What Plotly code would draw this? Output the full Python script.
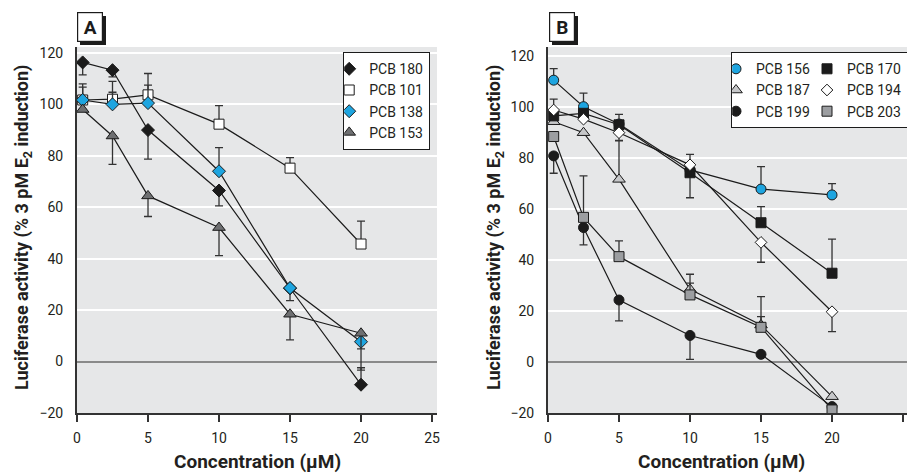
import plotly.graph_objects as go

W, H = 907, 473

# ---------------- data ----------------
conc = [0.4, 2.5, 5, 10, 15, 20]

# Panel A
pcb180 = [116.3, 113.3, 90.0, 66.5, 28.5, -9.0]
pcb180_up = [0, 0, 0, 0, 0, 6.6]
pcb180_dn = [4.8, 2.6, 11.3, 6.0, 4.8, 0]

pcb101 = [101.7, 102.0, 103.7, 92.3, 75.2, 45.7]
pcb101_up = [6.3, 6.9, 8.3, 7.2, 4.1, 8.9]
pcb101_dn = [0, 0, 0, 0, 0, 0]

pcb138 = [101.7, 100.0, 100.5, 74.0, 28.6, 7.7]
pcb138_up = [5.0, 4.7, 7.0, 9.2, 0, 0]
pcb138_dn = [0, 0, 0, 0, 0, 11.0]

pcb153 = [98.0, 87.7, 64.4, 52.1, 18.4, 11.0]
pcb153_up = [0, 0, 0, 0, 0, 0]
pcb153_dn = [0, 11.0, 8.0, 10.9, 10.0, 6.1]

# Panel B
pcb156 = [110.5, 100.1, 93.3, 75.3, 67.8, 65.5]
pcb156_up = [4.5, 5.3, 3.8, 6.1, 8.8, 4.4]
pcb156_dn = [0, 0, 0, 0, 0, 0]

pcb170 = [96.5, 97.5, 93.0, 74.2, 54.6, 34.8]
pcb170_up = [0, 0, 0, 0, 6.3, 13.4]
pcb170_dn = [0, 0, 0, 9.8, 0, 0]

pcb187 = [94.2, 89.9, 71.6, 28.5, 14.5, -13.6]
pcb187_up = [0, 0, 15.1, 5.9, 11.1, 0]
pcb187_dn = [0, 0, 0, 0, 0, 0]

pcb194 = [98.8, 95.2, 89.9, 77.3, 46.9, 19.7]
pcb194_up = [4.3, 0, 0, 0, 0, 0]
pcb194_dn = [0, 0, 3.0, 0, 7.8, 7.8]

pcb199 = [80.8, 52.7, 24.3, 10.4, 3.0, -17.5]
pcb199_up = [0, 0, 0, 0, 0, 0]
pcb199_dn = [6.8, 6.8, 8.2, 9.4, 0, 0]

pcb203 = [88.4, 56.7, 41.3, 26.3, 13.6, -18.8]
pcb203_up = [0, 16.3, 6.2, 4.6, 4.2, 0]
pcb203_dn = [0, 0, 0, 0, 0, 0]

x_ticks = [0, 5, 10, 15, 20, 25]
y_ticks = [-20, 0, 20, 40, 60, 80, 100, 120]

# ---------------- style ----------------
FONT = "Roboto, Liberation Sans, Arial, sans-serif"
BLUE = "#1ea5e0"
DARKGRAY = "#6e6f71"
LIGHTGRAY = "#c6c7c9"
MIDGRAY = "#9c9ea1"
BLACK = "#1b1b1b"
BG = "#e6e7e8"
TXT = "#231f20"


def px(x):
    return x / W


def py(y):
    return (H - y) / H


line_traces = []
marker_traces = []


def add(name, y, up, dn, symbol, size, color, xa, ya, legend, group=None):
    # connecting line (not shown in legend)
    line_traces.append(go.Scatter(
        x=conc, y=y, mode="lines", showlegend=False, hoverinfo="skip",
        xaxis=xa, yaxis=ya, line=dict(color=BLACK, width=1.2),
    ))
    # markers with error bars (legend entry shows the marker only)
    marker_traces.append(go.Scatter(
        x=conc, y=y, name=name, mode="markers",
        xaxis=xa, yaxis=ya, legend=legend, legendgroup=group,
        marker=dict(symbol=symbol, size=size, color=color,
                    line=dict(color=BLACK, width=1)),
        error_y=dict(type="data", symmetric=False, array=up, arrayminus=dn,
                     color="#333333", thickness=1.3, width=4),
    ))


# Panel A
add("PCB 180", pcb180, pcb180_up, pcb180_dn, "diamond", 10, BLACK, "x", "y", "legend")
add("PCB 101", pcb101, pcb101_up, pcb101_dn, "square", 10, "white", "x", "y", "legend")
add("PCB 138", pcb138, pcb138_up, pcb138_dn, "diamond", 10, BLUE, "x", "y", "legend")
add("PCB 153", pcb153, pcb153_up, pcb153_dn, "triangle-up", 11, DARKGRAY, "x", "y", "legend")

# Panel B
add("PCB 156", pcb156, pcb156_up, pcb156_dn, "circle", 10, BLUE, "x2", "y2", "legend2", "g1")
add("PCB 187", pcb187, pcb187_up, pcb187_dn, "triangle-up", 11, LIGHTGRAY, "x2", "y2", "legend2", "g1")
add("PCB 199", pcb199, pcb199_up, pcb199_dn, "circle", 10, BLACK, "x2", "y2", "legend2", "g1")
add("PCB 170", pcb170, pcb170_up, pcb170_dn, "square", 10, BLACK, "x2", "y2", "legend2", "g2")
add("PCB 194", pcb194, pcb194_up, pcb194_dn, "diamond", 9, "white", "x2", "y2", "legend2", "g2")
add("PCB 203", pcb203, pcb203_up, pcb203_dn, "square", 10, MIDGRAY, "x2", "y2", "legend2", "g2")

fig = go.Figure(data=line_traces + marker_traces)

ydom = [py(413), py(47)]

xaxis_common = dict(
    tickvals=x_ticks, ticks="outside", ticklen=7, tickwidth=1.5, tickcolor="#333333",
    showline=True, linecolor="#333333", linewidth=2, showgrid=False, zeroline=False,
    tickfont=dict(family=FONT, size=14, color=TXT), ticklabelstandoff=4,
    automargin=False,
)
yaxis_common = dict(
    tickvals=y_ticks, ticks="", showline=True, linecolor="#333333", linewidth=2,
    showgrid=True, gridcolor="white", gridwidth=1.5,
    zeroline=True, zerolinecolor="#8a8a8a", zerolinewidth=2,
    tickfont=dict(family=FONT, size=14, color=TXT), ticklabelstandoff=9,
    domain=ydom, automargin=False,
)

legend_common = dict(
    xanchor="left", yanchor="top",
    bgcolor="white", bordercolor=BLACK, borderwidth=1.2,
    font=dict(family=FONT, size=14, color=TXT),
    indentation=-15,
)

fig.update_layout(
    width=W, height=H, autosize=False,
    margin=dict(l=0, r=0, t=0, b=0, autoexpand=False),
    paper_bgcolor="white", plot_bgcolor=BG,
    font=dict(family=FONT, color=TXT),
    xaxis=dict(domain=[px(77), px(437)], range=[0, 25.35], anchor="y", **xaxis_common),
    yaxis=dict(range=[-20, 122.3], anchor="x", **yaxis_common),
    xaxis2=dict(domain=[px(548), 1.0], range=[0, 25.28], anchor="y2", **xaxis_common),
    yaxis2=dict(range=[-20, 123.5], anchor="x2", **yaxis_common),
    legend=dict(x=px(343), y=py(52), tracegroupgap=0, **legend_common),
    legend2=dict(x=px(731), y=py(52), orientation="h", traceorder="grouped",
                 tracegroupgap=0, entrywidth=61, entrywidthmode="pixels",
                 **legend_common),
    showlegend=True,
)

# panel letters with drop shadow
shapes = []
for (x0, x1) in [(77, 103), (549, 575)]:
    shapes.append(dict(type="rect", xref="paper", yref="paper",
                       x0=px(x0 + 3), x1=px(x1 + 3), y0=py(45), y1=py(16),
                       fillcolor=BLACK, line=dict(width=0), layer="above"))
fig.update_layout(shapes=shapes)

for letter, cx in [("A", 90), ("B", 562)]:
    fig.add_annotation(xref="paper", yref="paper", x=px(cx), y=py(27.5),
                       text=f"<b>{letter}</b>", showarrow=False,
                       font=dict(family=FONT, size=19, color=BLACK),
                       bgcolor="white", bordercolor=BLACK, borderwidth=1.2,
                       width=24, height=28, borderpad=0,
                       xanchor="center", yanchor="middle")

ytitle = "<b>Luciferase activity (% 3 pM E<sub>2</sub> induction)</b>"
xtitle = "<b>Concentration (μM)</b>"
for cx in [23, 495]:
    fig.add_annotation(xref="paper", yref="paper", x=px(cx), y=py(228),
                       text=ytitle, textangle=-90, showarrow=False,
                       font=dict(family=FONT, size=18, color=TXT),
                       xanchor="center", yanchor="middle")
for cx in [257, 721]:
    fig.add_annotation(xref="paper", yref="paper", x=px(cx), y=py(461),
                       text=xtitle, showarrow=False,
                       font=dict(family=FONT, size=19, color=TXT),
                       xanchor="center", yanchor="middle")

fig.write_html(
    "out.html",
    config={"displayModeBar": False, "responsive": False},
    post_script="document.body.style.margin='0';document.body.style.overflow='hidden';",
)
